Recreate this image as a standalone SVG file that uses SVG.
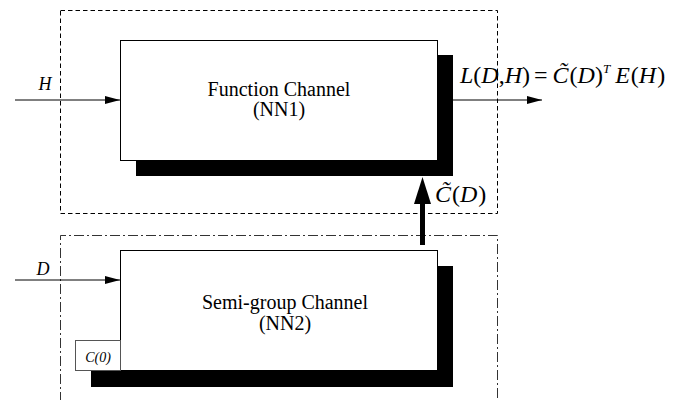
<svg xmlns="http://www.w3.org/2000/svg" width="689" height="400" viewBox="0 0 689 400">
<defs>
<style>
.frame{fill:none;stroke:#000;stroke-width:1}
.dash{stroke-dasharray:4.5,3}
.dashdot{stroke:#333;stroke-dasharray:10,3,2,3}
.box{fill:#fff;stroke:#000;stroke-width:1}
.small{fill:#fff;stroke:#555;stroke-width:1}
.shadow{fill:#000}
text{font-family:"Liberation Serif","DejaVu Serif","Noto Serif",serif;fill:#000}
.lbl{font-size:20px;text-anchor:middle}
.it{font-style:italic}
.rm{font-style:normal}
.line{stroke:#000;stroke-width:1;fill:none}
</style>
<marker id="ah" viewBox="0 0 15 8" refX="15" refY="4" markerWidth="15" markerHeight="8" markerUnits="userSpaceOnUse" orient="auto">
<path d="M0,0 L15,4 L0,8 Z" fill="#000"/>
</marker>
</defs>
<g id="frames">
<rect class="frame dash" x="60.5" y="10.5" width="437" height="203"/>
<path class="frame dashdot" d="M60.5,402 V235.5 H497.5 V402"/>
</g>
<g id="function-channel">
<rect class="shadow" x="136" y="55" width="317" height="121"/>
<rect class="box" x="120.5" y="40.5" width="317" height="120"/>
<text class="lbl" x="279" y="96">Function Channel</text>
<text class="lbl" x="279" y="116">(NN1)</text>
</g>
<g id="semigroup-channel">
<rect class="shadow" x="136" y="266" width="317" height="121"/>
<rect class="shadow" x="91" y="356" width="50" height="31"/>
<rect class="box" x="120.5" y="250.5" width="317" height="120"/>
<text class="lbl" x="285" y="309" font-size="21">Semi-group Channel</text>
<text class="lbl" x="285" y="330" font-size="21">(NN2)</text>
</g>
<g id="c0">
<rect class="small" x="75.5" y="340.5" width="45" height="30"/>
<text class="it" x="98" y="362" font-size="14" text-anchor="middle">C(0)</text>
</g>
<g id="connectors">
<line class="line" x1="15" y1="100" x2="120" y2="100" marker-end="url(#ah)"/>
<line class="line" x1="15" y1="280" x2="120" y2="280" marker-end="url(#ah)"/>
<line class="line" x1="453" y1="100" x2="542" y2="100" marker-end="url(#ah)"/>
<line x1="422.5" y1="245" x2="422.5" y2="200" stroke="#000" stroke-width="5"/>
<path d="M414,204 L422.5,177 L431,204 Z" fill="#000"/>
</g>
<g id="labels">
<text class="it" x="45" y="90" font-size="18" text-anchor="middle">H</text>
<text class="it" x="43" y="275" font-size="18" text-anchor="middle">D</text>
<text class="it" x="435" y="202" font-size="24">C̃<tspan class="rm" dx="1">(</tspan>D<tspan class="rm" dx="1">)</tspan></text>
<text class="it" x="460" y="83" font-size="24">L<tspan class="rm">(</tspan>D<tspan class="rm">,</tspan>H<tspan class="rm">)</tspan><tspan class="rm" dx="4">=</tspan><tspan dx="5">C̃</tspan><tspan class="rm" dx="1">(</tspan>D<tspan class="rm">)</tspan><tspan font-size="13" dy="-10">T</tspan><tspan dy="10" dx="5">E</tspan><tspan class="rm" dx="1">(</tspan>H<tspan class="rm" dx="1">)</tspan></text>
</g>
</svg>
